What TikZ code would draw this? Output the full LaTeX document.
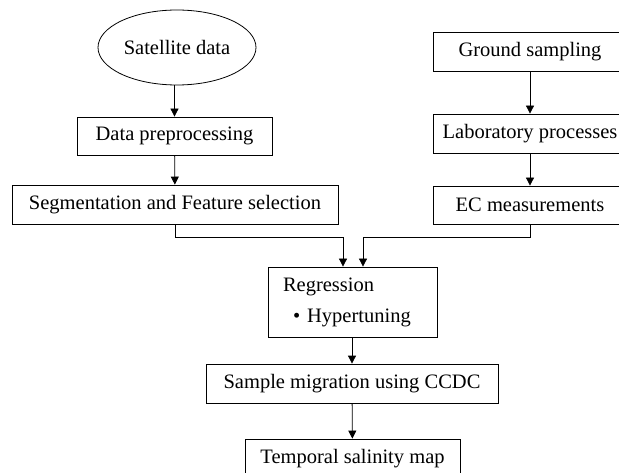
\documentclass[tikz,border=0pt]{standalone}
\usepackage{fontspec}
\setmainfont{Liberation Serif}
\usetikzlibrary{shapes.geometric,arrows.meta,calc}
\tikzset{
  box/.style={draw=black, line width=0.8pt, rectangle, inner sep=0pt, minimum height=39pt, font=\fontsize{20.5}{24}\selectfont},
  oval/.style={draw=black, line width=0.8pt, ellipse, inner sep=0pt, minimum width=158pt, minimum height=75pt, font=\fontsize{20.5}{24}\selectfont},
  arr/.style={draw=black, line width=0.8pt, -{Triangle[length=8pt,width=8pt]}}
}
\begin{document}
\begin{tikzpicture}[x=1pt,y=-1pt]
\useasboundingbox (0,0) rectangle (619,473);
\node[oval] (sat) at (177,47.5) {Satellite data};
\node[box, minimum width=195pt, minimum height=38pt] (dp) at (174.5,136) {Data preprocessing};
\node[box, minimum width=326pt] (seg) at (175,204.5) {Segmentation and Feature selection};
\node[box, minimum width=194pt] (gs) at (530,51.5) {Ground sampling};
\node[box, minimum width=194pt] (lab) at (530,133.5) {Laboratory processes};
\node[box, minimum width=194pt, minimum height=38pt] (ec) at (530,205) {EC measurements};
\node[box, minimum width=169pt, minimum height=70pt, text width=139pt, align=left, font=\fontsize{20.5}{31}\selectfont] (reg) at (352.5,302) {Regression\\\hspace*{10pt}\textbullet\hspace{7pt}Hypertuning};
\node[box, minimum width=292pt] (smp) at (352,383.5) {Sample migration using CCDC};
\node[box, minimum width=215pt] (tmp) at (352.5,458.5) {Temporal salinity map};
\coordinate (jl) at ($(reg.north)+(-9.5,0)$);
\coordinate (jr) at ($(reg.north)+(10.5,0)$);
\draw[arr] (sat.south -| dp.north) -- (dp.north);
\draw[arr] (dp) -- (seg);
\draw[arr] (gs) -- (lab);
\draw[arr] (lab) -- (ec);
\draw[arr] (seg.south) -- ++(0,13) -| (jl);
\draw[arr] (ec.south) -- ++(0,13) -| (jr);
\draw[arr] (reg.south -| smp.north) -- (smp.north);
\draw[arr] (smp) -- (tmp);
\end{tikzpicture}
\end{document}
